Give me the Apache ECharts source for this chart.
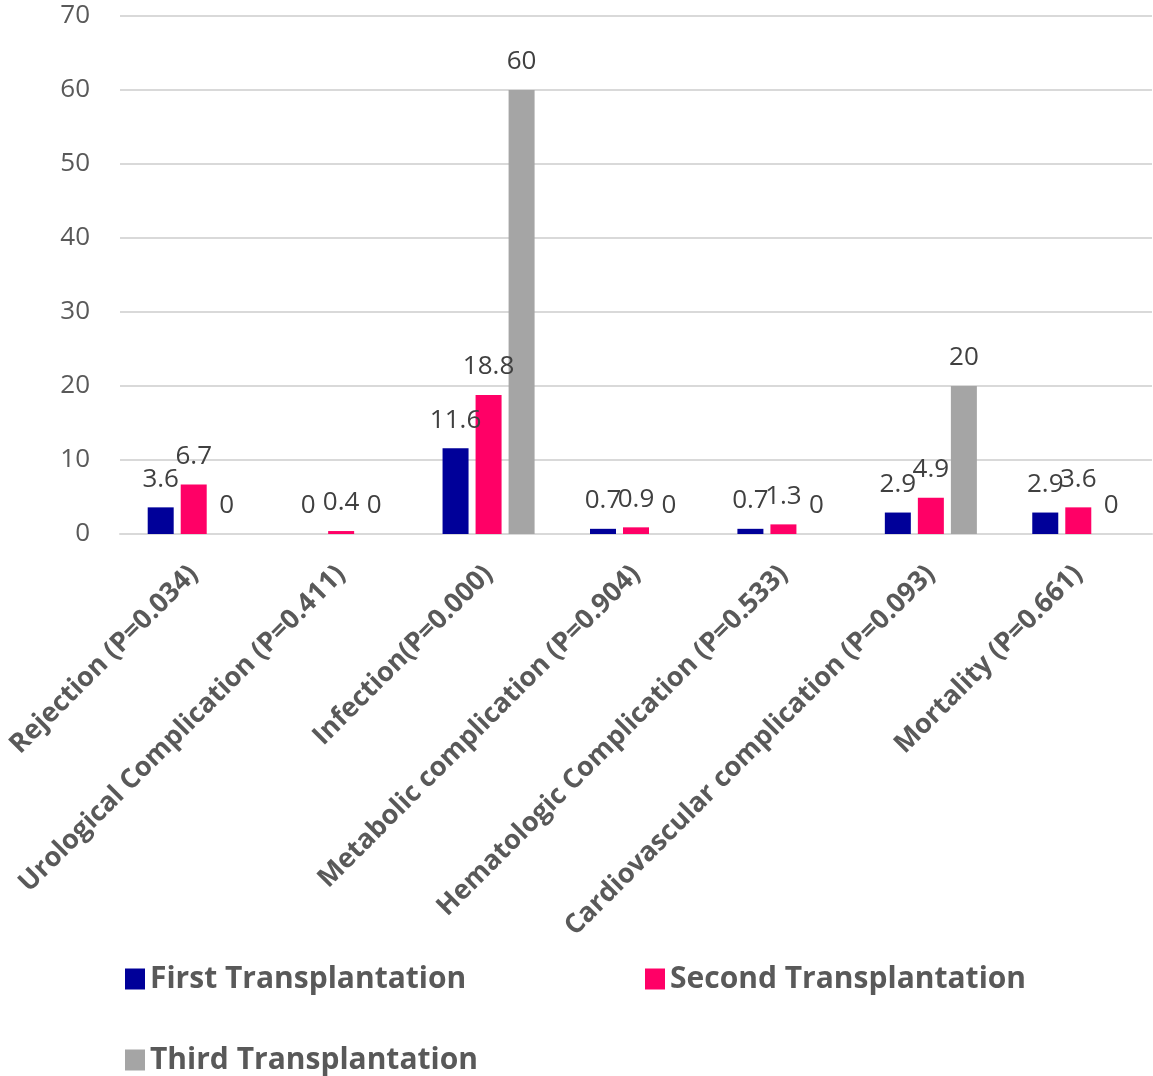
<!DOCTYPE html>
<html>
<head>
<meta charset="utf-8">
<script src="https://cdn.jsdelivr.net/npm/echarts@6/dist/echarts.min.js"></script>
<style>
  html, body { margin: 0; padding: 0; background: #fff; }
  #chart { width: 1153px; height: 1076px; }
</style>
</head>
<body>
<div id="chart"></div>
<script>
// categories and values
const categories = [
    'Rejection (P=0.034)',
    'Urological Complication (P=0.411)',
    'Infection(P=0.000)',
    'Metabolic complication (P=0.904)',
    'Hematologic Complication (P=0.533)',
    'Cardiovascular complication (P=0.093)',
    'Mortality (P=0.661)'
];
const seriesNames = ['First Transplantation', 'Second Transplantation', 'Third Transplantation'];
const firstValues = [3.6, 0, 11.6, 0.7, 0.7, 2.9, 2.9];
const secondValues = [6.7, 0.4, 18.8, 0.9, 1.3, 4.9, 3.6];
const thirdValues = [0, 0, 60, 0, 0, 20, 0];
const colors = ['#000099', '#FF0066', '#A5A5A5'];

const chart = echarts.init(document.getElementById('chart'));

const labelStyle = {
    show: true,
    position: 'top',
    distance: 15,
    fontSize: 26,
    fontFamily: 'Open Sans',
    color: '#404040'
};

const makeLegend = (name, left, top) => ({
    data: [name],
    left: left,
    top: top,
    icon: 'rect',
    itemWidth: 20,
    itemHeight: 21,
    textStyle: {
        fontSize: 30,
        lineHeight: 30,
        fontWeight: 'bold',
        fontFamily: 'Open Sans',
        color: '#595959'
    }
});

const makeSeries = (name, values) => ({
    name: name,
    type: 'bar',
    data: values,
    barWidth: 26,
    barGap: '27%',
    label: labelStyle
});

const option = {
    color: colors,
    animation: false,
    grid: { left: 120, right: 1, top: 16, bottom: 542 },
    legend: [
        makeLegend(seriesNames[0], 120, 959),
        makeLegend(seriesNames[1], 640, 959),
        makeLegend(seriesNames[2], 120, 1040)
    ],
    xAxis: {
        type: 'category',
        data: categories,
        axisLine: { lineStyle: { color: '#D9D9D9', width: 2 } },
        axisTick: { show: false },
        axisLabel: {
            rotate: 45,
            interval: 0,
            margin: 36,
            fontSize: 27,
            fontWeight: 'bold',
            fontFamily: 'Open Sans',
            color: '#595959'
        }
    },
    yAxis: {
        type: 'value',
        min: 0,
        max: 70,
        interval: 10,
        axisLine: { show: false },
        axisTick: { show: false },
        splitLine: { lineStyle: { color: '#D9D9D9', width: 2 } },
        axisLabel: {
            margin: 30,
            fontSize: 26,
            fontFamily: 'Open Sans',
            color: '#595959'
        }
    },
    series: [
        makeSeries(seriesNames[0], firstValues),
        makeSeries(seriesNames[1], secondValues),
        makeSeries(seriesNames[2], thirdValues)
    ]
};

chart.setOption(option);
</script>
</body>
</html>
